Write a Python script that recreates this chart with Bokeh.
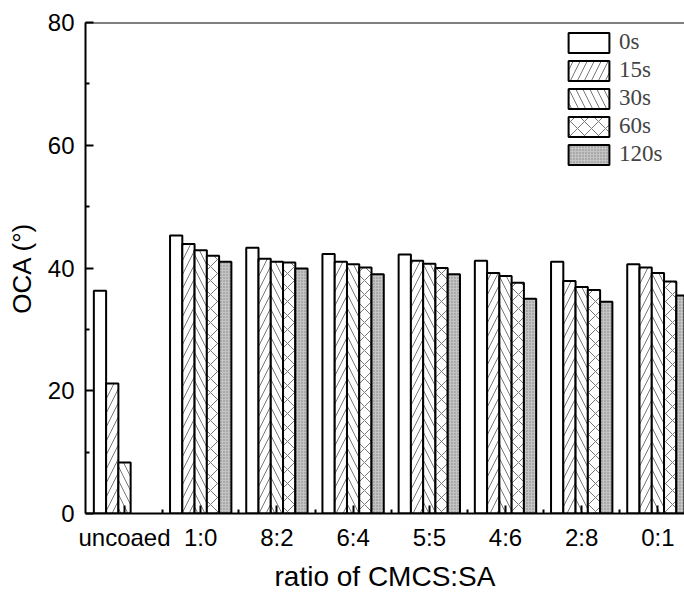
import numpy as np
from bokeh.plotting import figure
from bokeh.models import ColumnDataSource, FixedTicker, Span, Legend, LegendItem, Range1d
from bokeh.embed import file_html
from bokeh.resources import INLINE

categories = ["uncoaed", "1:0", "8:2", "6:4", "5:5", "4:6", "2:8", "0:1"]
series_names = ["0s", "15s", "30s", "60s", "120s"]
s0 = [36.3, 45.3, 43.3, 42.3, 42.2, 41.2, 41.0, 40.6]
s15 = [21.2, 43.9, 41.5, 41.0, 41.2, 39.2, 37.9, 40.1]
s30 = [8.3, 42.9, 41.0, 40.6, 40.7, 38.7, 36.9, 39.2]
s60 = [None, 42.0, 40.9, 40.1, 40.0, 37.6, 36.4, 37.8]
s120 = [None, 41.0, 39.9, 39.0, 39.0, 35.0, 34.5, 35.5]
series = [s0, s15, s30, s60, s120]
y_ticks = [0, 20, 40, 60, 80]
y_minor = [10, 30, 50, 70]

styles = [
    dict(fill_color="white", hatch_pattern=None),
    dict(fill_color="white", hatch_pattern="/"),
    dict(fill_color="white", hatch_pattern="\\"),
    dict(fill_color="white", hatch_pattern="x"),
    dict(fill_color="#c4c4c4", hatch_pattern="."),
]

p = figure(width=684, height=594, output_backend="svg", toolbar_location=None,
           x_range=Range1d(-0.512, 7.349), y_range=Range1d(0, 80),
           min_border_left=85, min_border_right=0, min_border_top=22, min_border_bottom=81)
p.outline_line_color = None
p.grid.visible = False
p.background_fill_color = "white"
p.border_fill_color = "white"

bw = 0.161
items = []
for j, (name, vals, st) in enumerate(zip(series_names, series, styles)):
    xs = [i + (j - 2) * bw for i, v in enumerate(vals) if v is not None]
    tops = [v for v in vals if v is not None]
    src = ColumnDataSource(dict(x=xs, top=tops))
    kw = dict(x="x", top="top", width=bw, bottom=0, source=src,
              fill_color=st["fill_color"], line_color="black", line_width=2)
    if st["hatch_pattern"] is not None:
        if st["hatch_pattern"] == ".":
            kw.update(hatch_pattern=".", hatch_color="#808080", hatch_scale=3, hatch_weight=1)
        else:
            kw.update(hatch_pattern=st["hatch_pattern"], hatch_color="#777777",
                      hatch_scale=14, hatch_weight=1)
    r = p.vbar(**kw)
    items.append(LegendItem(label=name, renderers=[r]))

legend = Legend(items=items, location=(478, 346), padding=0, margin=0, spacing=2,
                glyph_width=51, glyph_height=25, label_standoff=5,
                label_text_font="Liberation Serif", label_text_font_size="23px",
                border_line_color=None, background_fill_alpha=0)
p.add_layout(legend)

p.add_layout(Span(location=80, dimension="width", line_color="black", line_width=2))

# x axis
xa = p.xaxis[0]
xa.ticker = FixedTicker(ticks=list(range(len(categories))),
                        minor_ticks=[i + 0.5 for i in range(len(categories))])
xa.major_label_overrides = {i: c for i, c in enumerate(categories)}
xa.axis_label = "ratio of CMCS:SA"
# y axis
ya = p.yaxis[0]
ya.ticker = FixedTicker(ticks=y_ticks, minor_ticks=y_minor)
ya.axis_label = "OCA (°)"

for ax in (xa, ya):
    ax.axis_line_width = 2
    ax.axis_line_color = "black"
    ax.major_tick_in = 8
    ax.major_tick_out = 0
    ax.minor_tick_in = 4
    ax.minor_tick_out = 0
    ax.major_tick_line_width = 2
    ax.minor_tick_line_width = 2
    ax.major_tick_line_color = "black"
    ax.minor_tick_line_color = "black"
    ax.major_label_text_font = "Liberation Sans"
    ax.major_label_text_font_size = "24px"
    ax.major_label_text_color = "black"
    ax.axis_label_text_font = "Liberation Sans"
    ax.axis_label_text_font_style = "normal"
    ax.axis_label_text_color = "black"

xa.major_label_standoff = 10
xa.axis_label_standoff = 7
xa.axis_label_text_font_size = "28px"
ya.major_label_standoff = 11
ya.axis_label_standoff = 8
ya.axis_label_text_font_size = "26px"

open("out.html", "w").write(file_html(p, INLINE))
